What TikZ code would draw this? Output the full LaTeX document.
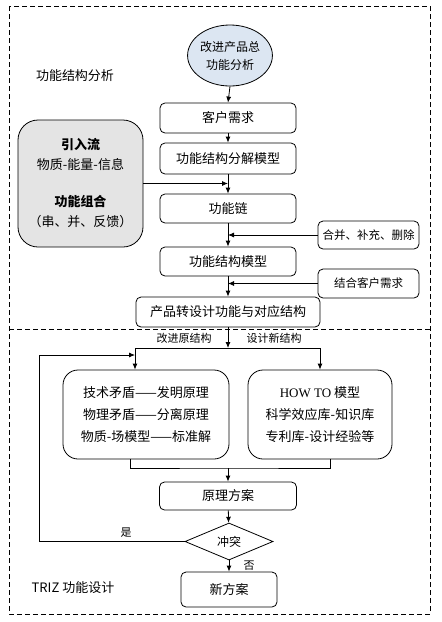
\documentclass[tikz,border=0pt]{standalone}
\usepackage{fontspec}
\setmainfont{Noto Sans CJK SC}
\newfontfamily\latinserif{Liberation Serif}
\usetikzlibrary{arrows.meta,positioning,calc,shapes.geometric}
\definecolor{paleblue}{HTML}{DCE6F2}
\definecolor{panelgray}{HTML}{E4E4E4}
\tikzset{
  stage/.style={draw,line width=0.8pt,rounded corners=5pt,inner sep=0pt,align=center,font=\fontsize{13}{18}\selectfont},
  sidebox/.style={stage,font=\fontsize{11.5}{16}\selectfont},
  bigbox/.style={stage,rounded corners=15pt,font=\fontsize{13}{22}\selectfont},
  tag/.style={font=\fontsize{13}{16}\selectfont,inner sep=0pt},
  branchtag/.style={font=\fontsize{11}{14}\selectfont,inner sep=0pt},
  flowline/.style={line width=0.8pt,-{Latex[length=6pt,width=5pt]}},
  plainline/.style={line width=0.8pt},
}

\begin{document}
\begin{tikzpicture}[x=1pt,y=-1pt]
  \useasboundingbox (0,0) rectangle (442,622);
  % frames
  \draw[line width=0.8pt,dash pattern=on 5pt off 3pt] (9,6) rectangle (430,614);
  \draw[line width=0.8pt,dash pattern=on 5pt off 3pt] (9,329) -- (430,329);
  \node[tag] (partA) at (75,76) {功能结构分析};
  \node[tag] (partB) at (73,588) {TRIZ 功能设计};

  % function structure analysis
  \node[ellipse,draw,line width=0.8pt,fill=paleblue,minimum width=74pt,minimum height=61pt,inner sep=0pt,align=center,font=\fontsize{12}{18}\selectfont] (circ) at (230,55.5) {改进产品总\\功能分析};
  \node[stage,minimum width=136pt,minimum height=30pt] (need) at (228,118) {客户需求};
  \node[stage,minimum width=136pt,minimum height=31pt] (decomp) at (228,158.5) {功能结构分解模型};
  \node[stage,minimum width=136pt,minimum height=29pt] (chain) at (228,208.5) {功能链};
  \node[stage,minimum width=136pt,minimum height=29pt] (model) at (228,261.5) {功能结构模型};
  \node[stage,minimum width=184pt,minimum height=30pt] (trans) at (228,312) {产品转设计功能与对应结构};
  \node[sidebox,minimum width=101pt,minimum height=28pt] (merge) at (368.5,235) {合并、补充、删除};
  \node[sidebox,minimum width=101pt,minimum height=29pt] (combine) at (368.5,283.5) {结合客户需求};
  \node[draw,line width=0.8pt,fill=panelgray,rounded corners=20pt,minimum width=125pt,minimum height=127pt,inner sep=0pt,align=center,font=\fontsize{13}{20}\selectfont] (flow) at (80.5,183.5)
    {{\bfseries 引入流}\\物质-能量-信息\\[17pt]{\bfseries 功能组合}\\（串、并、反馈）};

  \draw[flowline] (circ.south) -- (need.north);
  \draw[flowline] (need) -- (decomp);
  \draw[flowline] (decomp) -- (chain);
  \draw[flowline] (flow.east) -- (flow.east -| chain.north);
  \draw[flowline] (chain) -- (model);
  \draw[flowline] (merge.west) -- (merge.west -| chain.south);
  \draw[flowline] (model) -- (trans);
  \draw[flowline] (combine.west) -- (combine.west -| model.south);

  % TRIZ function design
  \coordinate (split) at (228,348);
  \coordinate (join) at (228,468);
  \coordinate (loop) at (39,355);
  \coordinate (entry) at (135,355);
  \node[branchtag] (oldlbl) at (184,338) {改进原结构};
  \node[branchtag] (newlbl) at (274,338) {设计新结构};
  \node[bigbox,minimum width=166pt,minimum height=89pt] (triz) at (146,414.5)
    {技术矛盾——发明原理\\物理矛盾——分离原理\\物质-场模型——标准解};
  \node[bigbox,minimum width=144pt,minimum height=89pt] (howto) at (320,414.5)
    {{\latinserif HOW TO} 模型\\科学效应库-知识库\\专利库-设计经验等};
  \node[stage,minimum width=137pt,minimum height=28pt] (scheme) at (228,496) {原理方案};
  \node[diamond,draw,line width=0.8pt,aspect=2.4,minimum width=88pt,minimum height=37pt,inner sep=0pt,font=\fontsize{12}{14}\selectfont] (conflict) at (229,541.5) {冲突};
  \node[stage,minimum width=96pt,minimum height=35pt] (new) at (229,589.5) {新方案};
  \node[branchtag] (yes) at (126,533) {是};
  \node[branchtag] (no) at (249,566) {否};

  \draw[flowline] (trans) -- (split);
  \draw[flowline] (split) -| ([xshift=-11pt]triz.north);
  \draw[flowline] (split) -| (howto.north);
  \draw[plainline] ([xshift=-16pt]triz.south) |- (join) -| ([xshift=10pt]howto.south);
  \draw[flowline] (join) -- (scheme);
  \draw[flowline] (scheme) -- (conflict);
  \draw[flowline] (conflict) -- (new);
  \draw[flowline] (conflict.west) -| (loop) -- (entry);
\end{tikzpicture}
\end{document}
